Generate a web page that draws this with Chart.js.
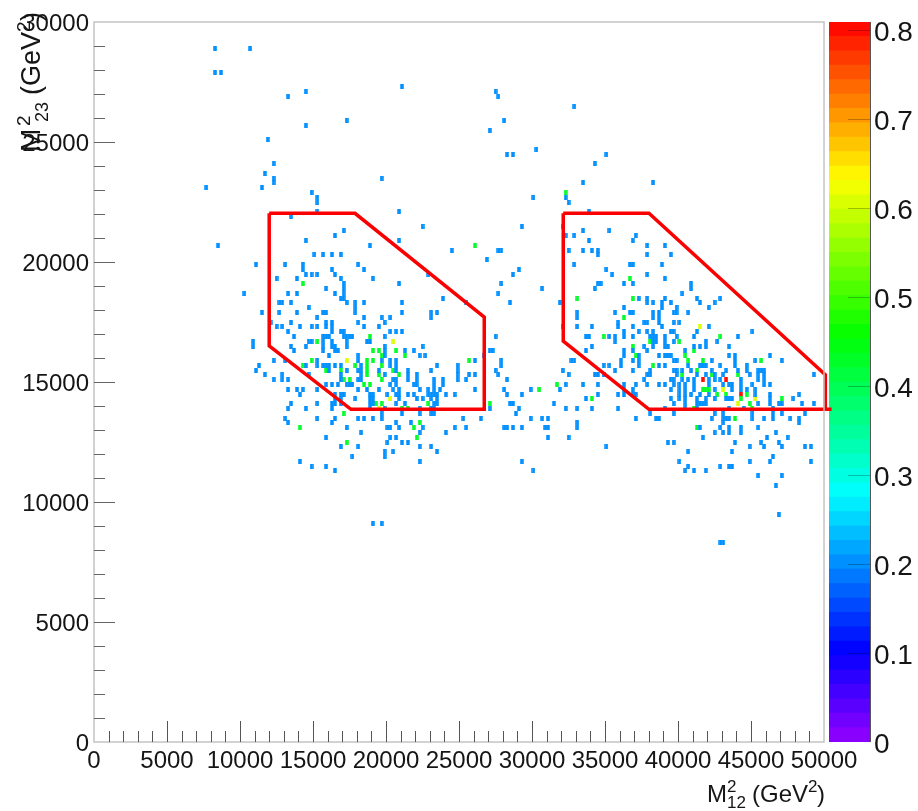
<!DOCTYPE html>
<html>
<head>
<meta charset="utf-8">
<title>Dalitz plot</title>
<script src="https://cdn.jsdelivr.net/npm/chart.js@4"></script>
<style>
  body { margin: 0; background: #fff; width: 918px; height: 811px; overflow: hidden; position: relative; }
  #plot { position: absolute; left: 0; top: 0; z-index: 2; }
  #palette { position: absolute; left: 829px; top: 0; z-index: 1; }
</style>
</head>
<body>
<canvas id="plot" width="918" height="811"></canvas>
<canvas id="palette" width="89" height="811"></canvas>
<script>
// occupied bins, one row per M23 value: [M23, [M12, M12, ...]]
const blueRows = [
  [28900, [8300, 10700]],
  [27900, [8300, 8700]],
  [27300, [21100]],
  [27100, [14500, 27500]],
  [26900, [13300, 27700]],
  [26500, [32900]],
  [25900, [17300, 28100]],
  [25700, [14500]],
  [25500, [27100]],
  [25100, [11900]],
  [24700, [30300]],
  [24500, [28300, 28700, 35100]],
  [24100, [12300, 34300]],
  [23700, [11700]],
  [23500, [12300, 19700]],
  [23300, [12300, 33500, 38300]],
  [23100, [7700, 11500]],
  [22900, [14900]],
  [22700, [15300, 30100, 32300]],
  [22500, [15300, 32500]],
  [22100, [15300, 20900, 33900]],
  [21900, [13500]],
  [21500, [22500, 29300, 32100]],
  [21300, [17100, 33500, 35300]],
  [21100, [16500, 32300, 32900, 37100]],
  [20900, [14500, 20900, 33900, 36900]],
  [20700, [8500, 18900, 37900, 39100]],
  [20500, [24500, 27700, 27900, 32500, 33500, 34100, 34500]],
  [20300, [15100, 15700, 16300, 16900, 34500, 37900, 39500]],
  [20100, [26900]],
  [19900, [11100, 13100, 14300, 18100, 32900, 36700, 36900, 38900]],
  [19700, [14300, 16300, 18500, 29100, 35100]],
  [19500, [14500, 14900, 15300, 16500, 22900, 28700, 35500, 37900]],
  [19300, [12500, 13900, 16900, 19100, 39100]],
  [19100, [17100, 20900, 27900, 34500, 34700, 36300, 36900, 40900]],
  [18900, [15900, 17100, 30700, 34300, 40900]],
  [18700, [10300, 13300, 13900, 16500, 17100, 27700, 40300]],
  [18500, [16900, 17100, 23900, 37300, 37900, 39100, 41300, 42900]],
  [18300, [12700, 12900, 13500, 17300, 17900, 18500, 21100, 25500, 28500, 31900, 37900, 38300, 38900, 39500, 41500, 42500]],
  [18100, [14700, 17900, 36300, 38900, 39900, 42100]],
  [17900, [11500, 12700, 13900, 15700, 15900, 17900, 21100, 23100, 23500, 33100, 35700, 36700, 36900, 38300, 38700, 39700, 39900, 40700]],
  [17700, [15300, 18500, 19700, 20300, 23100, 33100, 38300, 38700]],
  [17500, [12100, 13500, 15900, 16300, 18100, 19900, 35900, 37700, 37900, 38700, 39700, 40100]],
  [17300, [12500, 12900, 14100, 14900, 15300, 15900, 16300, 18500, 19500, 32100, 33100, 34100, 35900, 36900, 38900, 42100]],
  [17100, [13300, 16300, 16900, 17100, 20300, 20700, 21100, 36300, 37300, 37900, 38300, 39500, 39700, 41300, 45100]],
  [16900, [13700, 15700, 15900, 16100, 17100, 17300, 17500, 17700, 19900, 27500, 33700, 33900, 35300, 35700, 36300, 36900, 38100, 38300, 38500, 39100, 39900, 41100, 44100]],
  [16700, [10900, 14700, 14900, 15700, 16300, 17300, 18700, 18900, 35700, 38300, 38500, 39100, 39700, 41900, 42700]],
  [16500, [10900, 13500, 14500, 15700, 16300, 16500, 17300, 19900, 22500, 34100, 37700, 38300, 39100, 39300, 41100, 41500, 41900, 43500]],
  [16300, [13700, 15700, 16500, 16700, 19900, 21300, 21900, 27100, 27300, 33700, 36300, 36900, 37900, 40500]],
  [16100, [16100, 18100, 19900, 22300, 22700, 26700, 36300, 37300, 38700, 39100, 39300, 39500, 43500, 43900, 46300]],
  [15900, [12300, 13100, 15300, 18100, 19700, 20300, 20700, 26100, 27900, 32700, 32900, 36100, 36900, 37300, 39700, 39900, 42300, 43900, 45300, 47100]],
  [15700, [11300, 14500, 15300, 15700, 15900, 16100, 16500, 16900, 18300, 20300, 20700, 23500, 24900, 27900, 34900, 35300, 36100, 37300, 38700, 39100, 40700, 41500, 41700, 41900, 42900, 43900, 44700]],
  [15500, [11100, 16100, 17300, 18100, 18300, 19500, 20700, 21500, 23100, 24900, 27500, 32100, 35700, 36900, 38100, 39700, 39900, 40300, 40900, 42300, 43300, 44100, 44700, 45500, 45700, 45900]],
  [15300, [11700, 12900, 14700, 16900, 18300, 19900, 21500, 22100, 24900, 25700, 26100, 27700, 32500, 34300, 34500, 34900, 37900, 38100, 39900, 41300, 41900, 42500, 43100, 44900, 45500, 45900, 49300]],
  [15100, [12300, 12900, 13300, 16900, 18100, 18300, 20500, 20700, 21500, 22100, 23300, 23900, 24900, 25500, 28300, 37700, 39500, 39700, 40300, 40700, 41100, 42100, 42500, 42900, 44300, 45500, 45900]],
  [14900, [15900, 16300, 16700, 17300, 17500, 17700, 20300, 20700, 21900, 22100, 23300, 23900, 32300, 33500, 34500, 36300, 37100, 37900, 38700, 39100, 39700, 40100, 40500, 41100, 42100, 43100, 43500, 43700, 44300, 45100, 45900, 46300]],
  [14700, [13300, 13900, 14300, 15300, 18100, 18700, 19500, 20500, 20900, 22300, 22900, 23300, 23700, 26100, 28100, 29900, 31900, 36300, 36900, 39500, 40100, 40500, 41100, 42500, 43700, 44300, 44700, 45300]],
  [14500, [14100, 16500, 16900, 17100, 18900, 19100, 20100, 20700, 20900, 21500, 21900, 22900, 23100, 23300, 23500, 24100, 24700, 28300, 29300, 34500, 35900, 36300, 36900, 37100, 40100, 40500, 40900, 41500, 42100, 45300, 46300, 48300]],
  [14300, [16500, 16900, 17900, 18900, 19100, 20900, 22100, 22500, 23100, 23500, 33700, 39500, 40100, 40500, 41300, 41900, 42500, 43300, 43500, 43700, 46300, 47900]],
  [14100, [13500, 15300, 16300, 16500, 16900, 18900, 19100, 20700, 21300, 23300, 23500, 28500, 28700, 31500, 39700, 40500, 41300, 41500, 41700, 41900, 45500, 46300, 46900, 47100, 48500, 49300]],
  [13900, [13300, 14500, 16300, 18900, 19900, 22300, 23100, 23300, 27100, 29100, 32300, 33100, 34100, 35900, 39100, 40500, 41300, 43500, 44500, 46500]],
  [13700, [19700, 21100, 22300, 23100, 23300, 28900, 38100, 39700, 42500, 43100, 45100, 46500, 47100, 48700]],
  [13500, [13100, 15300, 16500, 18100, 18500, 19100, 19700, 25300, 26500, 29900, 30700, 31100, 37100, 38500, 38700, 42300, 43100, 43300, 43500, 45100, 45900, 46500, 47700, 48300]],
  [13300, [13300, 16300, 20700, 21700, 33100, 43100, 48300]],
  [13100, [17300, 20100, 20300, 20900, 22500, 24700, 25500, 28100, 28300, 28700, 29300, 30900, 31100, 33100, 41500, 42900, 43500, 44300, 45500]],
  [12900, [18300, 22300, 24100, 42500, 43100, 43500, 44300, 46700]],
  [12700, [15900, 20300, 20700, 31100, 32500, 41700, 46100, 47500]],
  [12500, [20100, 21100, 21500, 39300, 39700, 43900, 45700, 46900]],
  [12300, [16900, 18100, 22300, 23100, 35100, 44900, 45900, 47100, 48700, 49100]],
  [12100, [19900, 20500, 23500, 40700, 43700]],
  [11900, [17700, 19900, 46500]],
  [11700, [14100, 22300, 29300, 40100, 44900, 46300, 49100]],
  [11500, [14900, 15900, 40700, 42900, 43500, 43700]],
  [11300, [16500, 30100, 40500, 41100, 41900]],
  [11100, [45500, 47100]],
  [10700, [46700]],
  [9500, [46900]],
  [9100, [19100, 19700]],
  [8300, [42900, 43100]]
];
const greenRows = [
  [22900, [32300]],
  [20700, [26100]],
  [19300, [36700]],
  [19100, [14300]],
  [18500, [33100, 36900]],
  [17700, [36300]],
  [16900, [18900, 34900, 42900]],
  [16700, [15300, 38100, 40100]],
  [16500, [36900]],
  [16300, [19100, 19500, 20700, 41100]],
  [16100, [19700, 21300, 37100, 40500]],
  [15900, [14900, 18700, 19100, 25700, 40700, 41700, 45700]],
  [15700, [14300, 17900, 18700, 19700, 38300]],
  [15500, [15900, 16900, 18700, 20500, 41300]],
  [15300, [18700, 19500, 20900, 40300, 42300, 44100]],
  [15100, [17100, 17500, 19700]],
  [14900, [18500, 18900, 31700]],
  [14700, [30500, 41700, 41900, 42100]],
  [14500, [42700, 43300, 44700]],
  [14300, [34100, 44300, 47100]],
  [14100, [19300, 19700, 22900, 27100, 44900]],
  [13900, [21100, 21500, 41100, 45100]],
  [13700, [17100]],
  [13500, [43900]],
  [13300, [22300]],
  [13100, [14100, 21900, 41300]],
  [12700, [22100]],
  [12500, [17300]]
];
const yellowRows = [
  [17300, [41500]],
  [16700, [20500]],
  [15900, [17300]],
  [14700, [43100]],
  [14300, [20300, 45300]],
  [14100, [44100]],
  [13900, [19500]]
];
const redRows = [
  [15100, [41700, 43300]],
  [14500, [44300]]
];
const blueLevel = 0.2;
const greenLevel = 0.43;
const yellowLevel = 0.61;
const redLevel = 0.8;

// the two red selection boxes, [M12, M23]
const leftBox = [[12000, 22030], [17875, 22030], [26730, 17700], [26730, 13860], [17600, 13860], [12000, 16500], [12000, 22030]];
const rightBox = [[32140, 22030], [38010, 22030], [50090, 15300], [50090, 13860], [50520, 13860], [38010, 13860], [32140, 16700], [32140, 22030]];

const xMax = 50000;
const yMax = 30000;
const zMax = 0.809;
const bandCount = 50;
const fontName = '"Liberation Sans", Arial, sans-serif';
const inkColor = '#151515';

function levelColor(z) {
  const band = Math.min(Math.floor(z / zMax * bandCount), bandCount - 1);
  const mid = (band + 0.5) * zMax / bandCount;
  return `hsl(${Math.max(275 - 340 * mid, 0)}, 100%, 50%)`;
}

function toCells(rows) {
  return rows.flatMap(([y, xs]) => xs.map(x => ({ x, y })));
}

function cellImage(z) {
  const c = document.createElement('canvas');
  c.width = 4;
  c.height = 5;
  const g = c.getContext('2d');
  g.fillStyle = levelColor(z);
  g.fillRect(0.25, 0, 3.5, 5);
  return c;
}

function cellDataset(rows, z) {
  return {
    data: toCells(rows),
    pointStyle: cellImage(z),
    pointRadius: 3,
    showLine: false,
    order: 2
  };
}

function boxDataset(box) {
  return {
    data: box.map(([x, y]) => ({ x, y })),
    showLine: true,
    borderColor: '#fa0000',
    borderWidth: 3.5,
    pointRadius: 0,
    clip: false,
    order: 1
  };
}

// ticks point into the plot, so they are drawn here and not by the axis
function drawInnerTicks(chart, scale, major, majorLen, minorLen, style) {
  const ctx = chart.ctx;
  const area = chart.chartArea;
  ctx.save();
  ctx.lineWidth = 1;
  ctx.strokeStyle = style;
  scale.ticks.forEach(t => {
    if (t.value === 0 || t.value === scale.max) return;
    const isMajor = Math.abs(t.value / major - Math.round(t.value / major)) < 1e-6;
    const len = isMajor ? majorLen : minorLen;
    const p = Math.round(scale.getPixelForValue(t.value)) + 0.5;
    ctx.beginPath();
    if (scale.axis === 'x') {
      ctx.moveTo(p, area.bottom);
      ctx.lineTo(p, area.bottom - len);
    } else if (scale.position === 'left') {
      ctx.moveTo(area.left, p);
      ctx.lineTo(area.left + len, p);
    } else {
      ctx.moveTo(area.right, p);
      ctx.lineTo(area.right - len, p);
    }
    ctx.stroke();
  });
  ctx.restore();
}

function drawTitle(ctx, parts) {
  parts.forEach(([text, along, across, size]) => {
    ctx.font = `${size}px ${fontName}`;
    ctx.fillText(text, along, across);
  });
}

// text, offset along the axis, offset across it, font size
const xTitleParts = [['M', 0, 0, 24], ['2', 20, -10, 17], ['12', 20, 6, 17], ['(GeV', 45, 0, 24], ['2', 101, -10, 17], [')', 110, 0, 24]];
const yTitleParts = [['M', 0, 0, 28], ['2', 26, -10, 19], ['23', 30, 8, 18], ['(GeV', 57, 0, 27], ['2', 120, -10, 19], [')', 131, 0, 27]];

const framePlugin = {
  id: 'frame',
  afterDatasetsDraw(chart) {
    const ctx = chart.ctx;
    const a = chart.chartArea;
    ctx.save();
    ctx.strokeStyle = '#c4c4c4';
    ctx.lineWidth = 1.5;
    ctx.strokeRect(a.left, a.top, a.right - a.left, a.bottom - a.top);
    ctx.restore();
    drawInnerTicks(chart, chart.scales.x, 5000, 21, 11, '#555');
    drawInnerTicks(chart, chart.scales.y, 5000, 21, 11, '#666');
  },
  afterDraw(chart) {
    const ctx = chart.ctx;
    ctx.save();
    ctx.fillStyle = inkColor;
    ctx.textBaseline = 'alphabetic';
    ctx.translate(707, 802);
    drawTitle(ctx, xTitleParts);
    ctx.restore();
    ctx.save();
    ctx.fillStyle = inkColor;
    ctx.textBaseline = 'alphabetic';
    ctx.translate(40, 152);
    ctx.rotate(-Math.PI / 2);
    drawTitle(ctx, yTitleParts);
    ctx.restore();
  }
};

new Chart(document.getElementById('plot').getContext('2d'), {
  type: 'scatter',
  data: {
    datasets: [
      boxDataset(leftBox),
      boxDataset(rightBox),
      cellDataset(blueRows, blueLevel),
      cellDataset(greenRows, greenLevel),
      cellDataset(yellowRows, yellowLevel),
      cellDataset(redRows, redLevel)
    ]
  },
  options: {
    responsive: false,
    animation: false,
    layout: { padding: { top: 22, right: 94, left: 0, bottom: 0 } },
    plugins: { legend: { display: false }, tooltip: { enabled: false } },
    scales: {
      x: {
        type: 'linear',
        min: 0,
        max: xMax,
        grid: { display: false, drawTicks: false },
        border: { display: false },
        afterFit(scale) { scale.height = 69; },
        ticks: {
          stepSize: 1000,
          autoSkip: false,
          maxRotation: 0,
          padding: 5,
          color: inkColor,
          font: { family: fontName, size: 24 },
          callback: v => (v % 5000 === 0 ? String(v) : '')
        }
      },
      y: {
        type: 'linear',
        min: 0,
        max: yMax,
        grid: { display: false, drawTicks: false },
        border: { display: false },
        afterFit(scale) { scale.width = 94; },
        ticks: {
          stepSize: 1000,
          autoSkip: false,
          padding: 5,
          labelOffset: 2,
          color: inkColor,
          font: { family: fontName, size: 24 },
          callback: v => (v % 5000 === 0 ? String(v) : '')
        }
      }
    }
  },
  plugins: [framePlugin]
});

// colour scale, one stacked segment per palette band
const bandWidths = new Array(bandCount).fill(zMax / bandCount);

const paletteFrame = {
  id: 'paletteFrame',
  afterDatasetsDraw(chart) {
    const ctx = chart.ctx;
    const a = chart.chartArea;
    ctx.save();
    ctx.strokeStyle = '#555';
    ctx.lineWidth = 1;
    ctx.beginPath();
    ctx.moveTo(a.right + 0.5, a.top);
    ctx.lineTo(a.right + 0.5, a.bottom);
    ctx.stroke();
    ctx.restore();
    drawInnerTicks(chart, chart.scales.y, 0.1, 22, 22, 'rgba(0,0,0,0.25)');
  }
};

new Chart(document.getElementById('palette').getContext('2d'), {
  type: 'bar',
  data: {
    labels: ['z'],
    datasets: bandWidths.map((w, i) => ({
      data: [w],
      backgroundColor: levelColor((i + 0.5) * zMax / bandCount),
      borderWidth: 0,
      barPercentage: 1,
      categoryPercentage: 1
    }))
  },
  options: {
    responsive: false,
    animation: false,
    layout: { padding: { top: 22, bottom: 69, left: 0, right: 0 } },
    plugins: { legend: { display: false }, tooltip: { enabled: false } },
    scales: {
      x: { display: false, stacked: true },
      y: {
        position: 'right',
        stacked: true,
        min: 0,
        max: zMax,
        grid: { display: false, drawTicks: false },
        border: { display: false },
        afterFit(scale) { scale.width = 48; },
        ticks: {
          stepSize: 0.1,
          includeBounds: false,
          autoSkip: false,
          padding: 4,
          labelOffset: 3,
          color: inkColor,
          font: { family: fontName, size: 28 },
          callback: v => (v === 0 ? '0' : v.toFixed(1))
        }
      }
    }
  },
  plugins: [paletteFrame]
});
</script>
</body>
</html>
